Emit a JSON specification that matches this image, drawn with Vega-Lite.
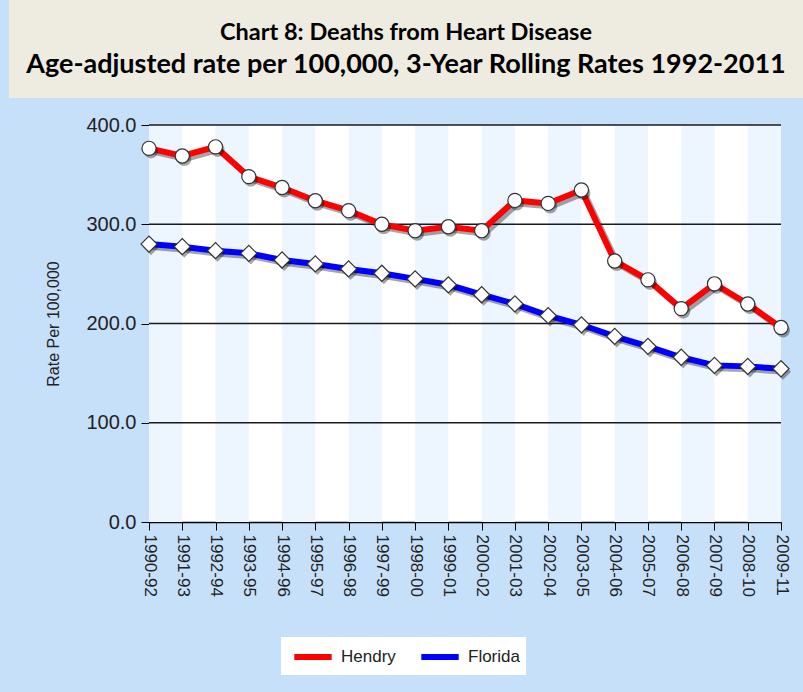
{
  "$schema": "https://vega.github.io/schema/vega-lite/v6.json",
  "background": "#C6E0FA",
  "padding": {"left": 9, "top": 0, "right": 0, "bottom": 17},
  "spacing": 17,
  "config": {
    "view": {"stroke": null},
    "font": "Liberation Sans",
    "axisX": {"domainColor": "#000", "domainWidth": 1.5, "tickColor": "#000", "tickSize": 8, "tickWidth": 1, "labelFontSize": 17, "labelPadding": 4, "labelColor": "#222", "grid": false, "zindex": 1, "labelOverlap": false},
    "axisY": {"domainColor": "#000", "domainWidth": 1, "domainDash": [2, 2], "tickColor": "#000", "tickSize": 8, "tickWidth": 1, "labelFontSize": 20, "labelPadding": 5, "labelColor": "#222", "titleFontSize": 16, "titleFontWeight": "normal", "titleColor": "#222", "titlePadding": 24, "grid": false, "zindex": 1}
  },
  "datasets": {
    "rates": [
      {"period": "1990-92", "series": "Hendry", "rate": 376.5},
      {"period": "1991-93", "series": "Hendry", "rate": 368.8},
      {"period": "1992-94", "series": "Hendry", "rate": 378.0},
      {"period": "1993-95", "series": "Hendry", "rate": 348.0},
      {"period": "1994-96", "series": "Hendry", "rate": 337.0},
      {"period": "1995-97", "series": "Hendry", "rate": 323.7},
      {"period": "1996-98", "series": "Hendry", "rate": 313.7},
      {"period": "1997-99", "series": "Hendry", "rate": 300.0},
      {"period": "1998-00", "series": "Hendry", "rate": 293.5},
      {"period": "1999-01", "series": "Hendry", "rate": 297.5},
      {"period": "2000-02", "series": "Hendry", "rate": 293.5},
      {"period": "2001-03", "series": "Hendry", "rate": 324.0},
      {"period": "2002-04", "series": "Hendry", "rate": 321.0},
      {"period": "2003-05", "series": "Hendry", "rate": 334.5},
      {"period": "2004-06", "series": "Hendry", "rate": 263.0},
      {"period": "2005-07", "series": "Hendry", "rate": 244.0},
      {"period": "2006-08", "series": "Hendry", "rate": 215.0},
      {"period": "2007-09", "series": "Hendry", "rate": 240.0},
      {"period": "2008-10", "series": "Hendry", "rate": 219.6},
      {"period": "2009-11", "series": "Hendry", "rate": 196.0},
      {"period": "1990-92", "series": "Florida", "rate": 280.0},
      {"period": "1991-93", "series": "Florida", "rate": 277.4},
      {"period": "1992-94", "series": "Florida", "rate": 273.4},
      {"period": "1993-95", "series": "Florida", "rate": 270.7},
      {"period": "1994-96", "series": "Florida", "rate": 264.0},
      {"period": "1995-97", "series": "Florida", "rate": 260.0},
      {"period": "1996-98", "series": "Florida", "rate": 255.0},
      {"period": "1997-99", "series": "Florida", "rate": 250.6},
      {"period": "1998-00", "series": "Florida", "rate": 245.0},
      {"period": "1999-01", "series": "Florida", "rate": 239.0},
      {"period": "2000-02", "series": "Florida", "rate": 229.0},
      {"period": "2001-03", "series": "Florida", "rate": 219.8},
      {"period": "2002-04", "series": "Florida", "rate": 208.0},
      {"period": "2003-05", "series": "Florida", "rate": 198.7},
      {"period": "2004-06", "series": "Florida", "rate": 187.0},
      {"period": "2005-07", "series": "Florida", "rate": 177.0},
      {"period": "2006-08", "series": "Florida", "rate": 166.0},
      {"period": "2007-09", "series": "Florida", "rate": 157.8},
      {"period": "2008-10", "series": "Florida", "rate": 156.8},
      {"period": "2009-11", "series": "Florida", "rate": 154.4}
    ],
    "stripes": [
      {"start": "1990-92", "end": "1991-93"},
      {"start": "1992-94", "end": "1993-95"},
      {"start": "1994-96", "end": "1995-97"},
      {"start": "1996-98", "end": "1997-99"},
      {"start": "1998-00", "end": "1999-01"},
      {"start": "2000-02", "end": "2001-03"},
      {"start": "2002-04", "end": "2003-05"},
      {"start": "2004-06", "end": "2005-07"},
      {"start": "2006-08", "end": "2007-09"},
      {"start": "2008-10", "end": "2009-11"}
    ],
    "grid": [{"rate": 100}, {"rate": 200}, {"rate": 300}, {"rate": 400}],
    "header": [
      {"line": 1, "text": "Chart 8: Deaths from Heart Disease"},
      {"line": 2, "text": "Age-adjusted rate per 100,000, 3-Year Rolling Rates 1992-2011"}
    ]
  },
  "vconcat": [
    {
      "width": 794,
      "height": 98,
      "view": {"fill": "#EEECE1", "stroke": null},
      "data": {"name": "header"},
      "encoding": {
        "y": {"field": "line", "type": "ordinal", "axis": null, "scale": {"type": "point", "padding": 1.45}},
        "text": {"field": "text"}
      },
      "layer": [
        {
          "transform": [{"filter": "datum.line == 1"}],
          "mark": {"type": "text", "font": "Lato", "fontWeight": "bold", "fontSize": 23.5, "color": "#000", "baseline": "middle", "align": "center"}
        },
        {
          "transform": [{"filter": "datum.line == 2"}],
          "mark": {"type": "text", "font": "Lato", "fontWeight": "bold", "fontSize": 27, "color": "#000", "baseline": "middle", "align": "center"}
        }
      ]
    },
    {
      "spacing": 0,
      "hconcat": [
        {"width": 36, "height": 10, "data": {"values": []}, "mark": "point"},
        {
          "width": 632,
          "height": 397,
          "view": {"fill": "white", "stroke": null},
          "layer": [
            {
              "data": {"name": "stripes"},
              "mark": {"type": "rect", "color": "#EDF5FE"},
              "encoding": {
                "x": {"field": "start", "type": "ordinal", "title": null, "axis": {"labelAngle": 90}, "scale": {"type": "point", "padding": 0, "domain": ["1990-92","1991-93","1992-94","1993-95","1994-96","1995-97","1996-98","1997-99","1998-00","1999-01","2000-02","2001-03","2002-04","2003-05","2004-06","2005-07","2006-08","2007-09","2008-10","2009-11"]}},
                "x2": {"field": "end"}
              }
            },
            {
              "data": {"name": "grid"},
              "mark": {"type": "rule", "color": "#1a1a1a", "strokeWidth": 1.3},
              "encoding": {
                "y": {"field": "rate", "type": "quantitative", "scale": {"domain": [0, 400], "nice": false}, "axis": {"values": [0, 100, 200, 300, 400], "format": ".1f", "title": "Rate Per 100,000"}}
              }
            },
            {
              "data": {"name": "rates"},
              "mark": {"type": "line", "color": "#000", "opacity": 0.35, "strokeWidth": 6, "xOffset": 3, "yOffset": 3},
              "encoding": {
                "x": {"field": "period", "type": "ordinal", "title": null, "axis": {"labelAngle": 90}},
                "y": {"field": "rate", "type": "quantitative", "axis": {"values": [0, 100, 200, 300, 400], "format": ".1f", "title": "Rate Per 100,000"}},
                "detail": {"field": "series"}
              }
            },
            {
              "data": {"name": "rates"},
              "mark": {"type": "line", "strokeWidth": 6},
              "encoding": {
                "x": {"field": "period", "type": "ordinal", "title": null, "axis": {"labelAngle": 90}},
                "y": {"field": "rate", "type": "quantitative", "axis": {"values": [0, 100, 200, 300, 400], "format": ".1f", "title": "Rate Per 100,000"}},
                "stroke": {"field": "series", "type": "nominal", "scale": {"domain": ["Hendry", "Florida"], "range": ["#FF0000", "#0000FF"]},
                  "legend": {"orient": "none", "legendX": 272, "legendY": 637, "direction": "horizontal", "title": null, "fillColor": "white", "padding": 6, "labelFontSize": 17, "labelColor": "#222", "symbolType": "M-1.7,0H1.7", "symbolStrokeWidth": 6, "symbolSize": 484, "symbolOffset": 12, "columnPadding": 13, "labelOffset": 14}}
              }
            },
            {
              "data": {"name": "rates"},
              "transform": [{"filter": "datum.series == 'Hendry'"}],
              "mark": {"type": "point", "shape": "circle", "size": 200, "filled": true, "color": "#000", "opacity": 0.35, "xOffset": 2, "yOffset": 3},
              "encoding": {
                "x": {"field": "period", "type": "ordinal", "title": null, "axis": {"labelAngle": 90}},
                "y": {"field": "rate", "type": "quantitative", "axis": {"values": [0, 100, 200, 300, 400], "format": ".1f", "title": "Rate Per 100,000"}}
              }
            },
            {
              "data": {"name": "rates"},
              "transform": [{"filter": "datum.series == 'Florida'"}],
              "mark": {"type": "point", "shape": "diamond", "size": 260, "filled": true, "color": "#000", "opacity": 0.35, "xOffset": 2, "yOffset": 3},
              "encoding": {
                "x": {"field": "period", "type": "ordinal", "title": null, "axis": {"labelAngle": 90}},
                "y": {"field": "rate", "type": "quantitative", "axis": {"values": [0, 100, 200, 300, 400], "format": ".1f", "title": "Rate Per 100,000"}}
              }
            },
            {
              "data": {"name": "rates"},
              "transform": [{"filter": "datum.series == 'Hendry'"}],
              "mark": {"type": "point", "shape": "circle", "size": 200, "filled": true, "fill": "white", "stroke": "#333", "strokeWidth": 1.2, "opacity": 1},
              "encoding": {
                "x": {"field": "period", "type": "ordinal", "title": null, "axis": {"labelAngle": 90}},
                "y": {"field": "rate", "type": "quantitative", "axis": {"values": [0, 100, 200, 300, 400], "format": ".1f", "title": "Rate Per 100,000"}}
              }
            },
            {
              "data": {"name": "rates"},
              "transform": [{"filter": "datum.series == 'Florida'"}],
              "mark": {"type": "point", "shape": "diamond", "size": 260, "filled": true, "fill": "white", "stroke": "#333", "strokeWidth": 1.2, "opacity": 1},
              "encoding": {
                "x": {"field": "period", "type": "ordinal", "title": null, "axis": {"labelAngle": 90}},
                "y": {"field": "rate", "type": "quantitative", "axis": {"values": [0, 100, 200, 300, 400], "format": ".1f", "title": "Rate Per 100,000"}}
              }
            },
            {
              "mark": {"type": "rule", "color": "#000", "strokeDash": [2, 2], "strokeWidth": 1},
              "encoding": {
                "x": {"datum": "2009-11", "type": "ordinal"}
              }
            }
          ]
        }
      ]
    }
  ]
}
